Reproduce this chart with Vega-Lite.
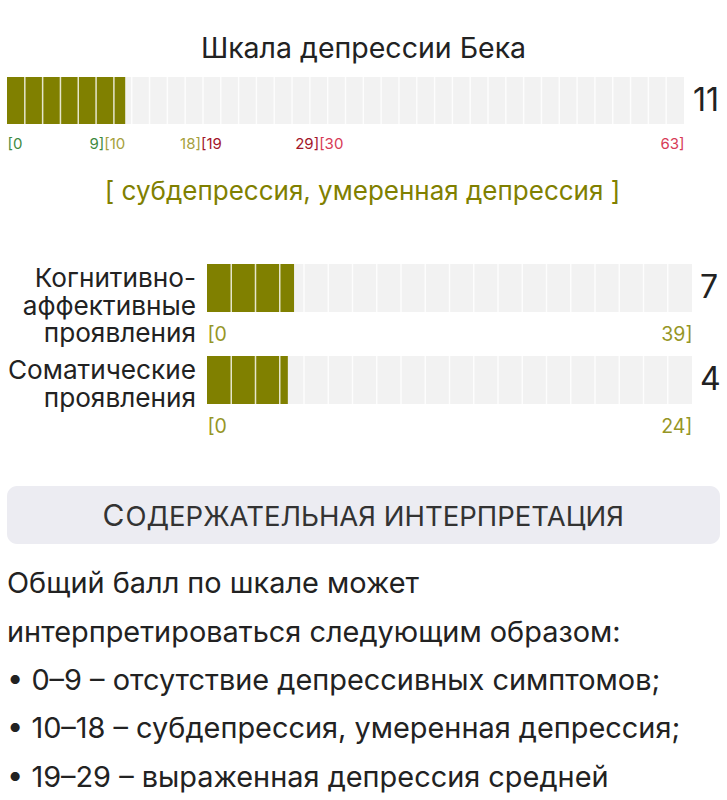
{
  "$schema": "https://vega.github.io/schema/vega-lite/v6.json",
  "padding": {"left": 7, "top": 34, "right": 0, "bottom": 0},
  "autosize": {"type": "pad"},
  "background": "white",
  "config": {
    "font": "Inter",
    "view": {"stroke": null},
    "axis": {"domain": false, "ticks": false, "grid": false}
  },
  "spacing": 50,
  "vconcat": [
    {
      "spacing": 59,
      "vconcat": [
        {
          "width": 677,
          "height": 47,
          "title": {"text": "Шкала депрессии Бека", "fontSize": 28.5, "fontWeight": "normal", "color": "#222222", "anchor": "middle", "offset": 13, "dx": 18},
          "data": {"values": [{"scale": "Шкала депрессии Бека", "lo": 0, "hi": 63, "score": 11}]},
          "layer": [
            {
              "mark": {"type": "rect", "color": "#f2f2f2"},
              "encoding": {
                "x": {
                  "field": "lo", "type": "quantitative",
                  "scale": {"domain": [0, 63], "nice": false},
                  "axis": {
                    "values": [0, 9, 9.001, 18, 18.001, 29, 29.001, 63],
                    "labelExpr": "datum.value == 0 ? '[0' : datum.value == round(datum.value) ? datum.value + ']' : '[' + (round(datum.value) + 1)",
                    "labelAlign": {"condition": {"test": "datum.value == 0 || datum.value != round(datum.value)", "value": "left"}, "value": "right"},
                    "labelColor": {"condition": [{"test": "datum.value < 9.0005", "value": "#3f8a3f"}, {"test": "datum.value < 18.0005", "value": "#a6a03c"}, {"test": "datum.value < 29.0005", "value": "#a3162a"}], "value": "#d73a56"},
                    "labelFontSize": 15, "labelPadding": 12, "labelFlush": false, "labelOverlap": false, "labelBound": false,
                    "title": "[ субдепрессия, умеренная депрессия ]", "titleFontSize": 26, "titleFontWeight": "normal", "titleColor": "#808000", "titlePadding": 27, "titleX": 355
                  }
                },
                "x2": {"field": "hi"}
              }
            },
            {
              "mark": {"type": "rect", "color": "#808000"},
              "encoding": {
                "x": {"field": "lo", "type": "quantitative", "scale": {"domain": [0, 63], "nice": false}, "axis": null},
                "x2": {"field": "score"}
              }
            },
            {
              "data": {"values": [{"b": 1}, {"b": 2}, {"b": 3}, {"b": 4}, {"b": 5}, {"b": 6}, {"b": 7}, {"b": 8}, {"b": 9}, {"b": 10}, {"b": 11}, {"b": 12}, {"b": 13}, {"b": 14}, {"b": 15}, {"b": 16}, {"b": 17}, {"b": 18}, {"b": 19}, {"b": 20}, {"b": 21}, {"b": 22}, {"b": 23}, {"b": 24}, {"b": 25}, {"b": 26}, {"b": 27}, {"b": 28}, {"b": 29}, {"b": 30}, {"b": 31}, {"b": 32}, {"b": 33}, {"b": 34}, {"b": 35}, {"b": 36}, {"b": 37}]},
              "mark": {"type": "rule", "color": "white", "strokeWidth": 1.5, "opacity": 0.8},
              "encoding": {
                "x": {"field": "b", "type": "quantitative", "scale": {"domain": [0, 38], "nice": false}, "axis": null}
              }
            },
            {
              "mark": {"type": "text", "align": "left", "baseline": "middle", "dx": 9, "fontSize": 32, "color": "#222222"},
              "encoding": {
                "x": {"field": "hi", "type": "quantitative", "scale": {"domain": [0, 63], "nice": false}, "axis": null},
                "text": {"field": "score"}
              }
            }
          ],
          "resolve": {"scale": {"x": "independent"}}
        },
        {
          "spacing": 7,
          "vconcat": [
            {
              "spacing": 11,
              "data": {"values": [{"name": "Когнитивно-|аффективные|проявления", "lo": 0, "hi": 39, "score": 7}]},
              "hconcat": [
                {
                  "width": 189,
                  "height": 48,
                  "mark": {"type": "text", "align": "right", "baseline": "top", "fontSize": 26.2, "lineHeight": 27.5, "lineBreak": "|", "dy": 2, "color": "#222222"},
                  "encoding": {
                    "x": {"datum": 1, "type": "quantitative", "scale": {"domain": [0, 1]}, "axis": null},
                    "y": {"datum": 1, "type": "quantitative", "scale": {"domain": [0, 1]}, "axis": null},
                    "text": {"field": "name"}
                  }
                },
                {
                  "width": 485,
                  "height": 48,
                  "layer": [
                    {
                      "mark": {"type": "rect", "color": "#f2f2f2"},
                      "encoding": {
                        "x": {
                          "field": "lo", "type": "quantitative",
                          "scale": {"domain": [0, 39], "nice": false},
                          "axis": {
                            "values": [0, 39],
                            "labelExpr": "datum.value == 0 ? '[0' : datum.value + ']'",
                            "labelAlign": {"condition": {"test": "datum.value == 0", "value": "left"}, "value": "right"},
                            "labelColor": "#969626", "labelFontSize": 19.5, "labelPadding": 13,
                            "labelFlush": false, "labelOverlap": false, "labelBound": false, "title": null
                          }
                        },
                        "x2": {"field": "hi"}
                      }
                    },
                    {
                      "mark": {"type": "rect", "color": "#808000"},
                      "encoding": {
                        "x": {"field": "lo", "type": "quantitative", "scale": {"domain": [0, 39], "nice": false}, "axis": null},
                        "x2": {"field": "score"}
                      }
                    },
                    {
                      "data": {"values": [{"b": 1}, {"b": 2}, {"b": 3}, {"b": 4}, {"b": 5}, {"b": 6}, {"b": 7}, {"b": 8}, {"b": 9}, {"b": 10}, {"b": 11}, {"b": 12}, {"b": 13}, {"b": 14}, {"b": 15}, {"b": 16}, {"b": 17}, {"b": 18}, {"b": 19}]},
                      "mark": {"type": "rule", "color": "white", "strokeWidth": 1.5, "opacity": 0.8},
                      "encoding": {
                        "x": {"field": "b", "type": "quantitative", "scale": {"domain": [0, 20], "nice": false}, "axis": null}
                      }
                    },
                    {
                      "mark": {"type": "text", "align": "left", "baseline": "middle", "dx": 8, "fontSize": 32, "color": "#222222"},
                      "encoding": {
                        "x": {"field": "hi", "type": "quantitative", "scale": {"domain": [0, 39], "nice": false}, "axis": null},
                        "text": {"field": "score"}
                      }
                    }
                  ],
                  "resolve": {"scale": {"x": "independent"}}
                }
              ]
            },
            {
              "spacing": 11,
              "data": {"values": [{"name": "Соматические|проявления", "lo": 0, "hi": 24, "score": 4}]},
              "hconcat": [
                {
                  "width": 189,
                  "height": 48,
                  "mark": {"type": "text", "align": "right", "baseline": "top", "fontSize": 26.2, "lineHeight": 27.5, "lineBreak": "|", "dy": 2, "color": "#222222"},
                  "encoding": {
                    "x": {"datum": 1, "type": "quantitative", "scale": {"domain": [0, 1]}, "axis": null},
                    "y": {"datum": 1, "type": "quantitative", "scale": {"domain": [0, 1]}, "axis": null},
                    "text": {"field": "name"}
                  }
                },
                {
                  "width": 485,
                  "height": 48,
                  "layer": [
                    {
                      "mark": {"type": "rect", "color": "#f2f2f2"},
                      "encoding": {
                        "x": {
                          "field": "lo", "type": "quantitative",
                          "scale": {"domain": [0, 24], "nice": false},
                          "axis": {
                            "values": [0, 24],
                            "labelExpr": "datum.value == 0 ? '[0' : datum.value + ']'",
                            "labelAlign": {"condition": {"test": "datum.value == 0", "value": "left"}, "value": "right"},
                            "labelColor": "#969626", "labelFontSize": 19.5, "labelPadding": 13,
                            "labelFlush": false, "labelOverlap": false, "labelBound": false, "title": null
                          }
                        },
                        "x2": {"field": "hi"}
                      }
                    },
                    {
                      "mark": {"type": "rect", "color": "#808000"},
                      "encoding": {
                        "x": {"field": "lo", "type": "quantitative", "scale": {"domain": [0, 24], "nice": false}, "axis": null},
                        "x2": {"field": "score"}
                      }
                    },
                    {
                      "data": {"values": [{"b": 1}, {"b": 2}, {"b": 3}, {"b": 4}, {"b": 5}, {"b": 6}, {"b": 7}, {"b": 8}, {"b": 9}, {"b": 10}, {"b": 11}, {"b": 12}, {"b": 13}, {"b": 14}, {"b": 15}, {"b": 16}, {"b": 17}, {"b": 18}, {"b": 19}]},
                      "mark": {"type": "rule", "color": "white", "strokeWidth": 1.5, "opacity": 0.8},
                      "encoding": {
                        "x": {"field": "b", "type": "quantitative", "scale": {"domain": [0, 20], "nice": false}, "axis": null}
                      }
                    },
                    {
                      "mark": {"type": "text", "align": "left", "baseline": "middle", "dx": 8, "fontSize": 32, "color": "#222222"},
                      "encoding": {
                        "x": {"field": "hi", "type": "quantitative", "scale": {"domain": [0, 24], "nice": false}, "axis": null},
                        "text": {"field": "score"}
                      }
                    }
                  ],
                  "resolve": {"scale": {"x": "independent"}}
                }
              ]
            }
          ]
        }
      ]
    },
    {
      "spacing": 15,
      "vconcat": [
        {
          "width": 713,
          "height": 58,
          "view": {"fill": "#ececf2", "cornerRadius": 10, "stroke": null},
          "data": {"values": [{"first": "С", "rest": "ОДЕРЖАТЕЛЬНАЯ ИНТЕРПРЕТАЦИЯ"}]},
          "layer": [
            {
              "mark": {"type": "text", "align": "right", "baseline": "alphabetic", "fontSize": 30, "color": "#333333", "dx": -239, "dy": 11},
              "encoding": {"text": {"field": "first"}}
            },
            {
              "mark": {"type": "text", "align": "left", "baseline": "alphabetic", "fontSize": 27.5, "color": "#333333", "dx": -238, "dy": 11},
              "encoding": {"text": {"field": "rest"}}
            }
          ]
        },
        {
          "width": 713,
          "height": 222,
          "data": {"values": [
            {"i": 1, "t": "Общий балл по шкале может"},
            {"i": 2, "t": "интерпретироваться следующим образом:"},
            {"i": 3, "t": "• 0–9 – отсутствие депрессивных симптомов;"},
            {"i": 4, "t": "• 10–18 – субдепрессия, умеренная депрессия;"},
            {"i": 5, "t": "• 19–29 – выраженная депрессия средней"}
          ]},
          "mark": {"type": "text", "align": "left", "baseline": "alphabetic", "dy": 20, "fontSize": 28.9, "color": "#222222"},
          "encoding": {
            "y": {"field": "i", "type": "ordinal", "axis": null, "scale": {"padding": 0.3}},
            "x": {"datum": 0, "type": "quantitative", "scale": {"domain": [0, 1]}, "axis": null},
            "text": {"field": "t"}
          }
        }
      ]
    }
  ]
}
